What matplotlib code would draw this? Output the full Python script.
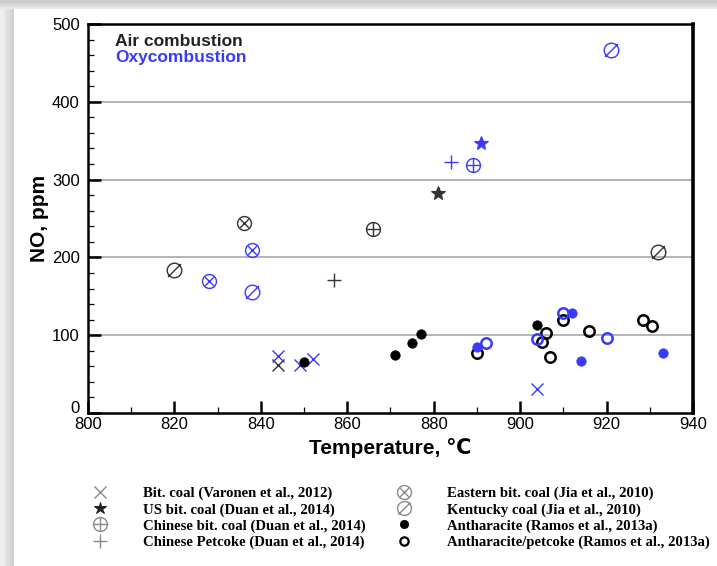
import matplotlib
matplotlib.use("Agg")
import matplotlib.pyplot as plt
import matplotlib.transforms as mtransforms
from matplotlib.path import Path
from matplotlib.lines import Line2D
from matplotlib.patches import Rectangle
from matplotlib.ticker import MultipleLocator

# ---------------- data ----------------
# Bit. coal (Varonen et al., 2012)  -- marker x
bit_air_T = [844]
bit_air_NO = [62]
bit_oxy_T = [844, 849, 852, 904]
bit_oxy_NO = [73, 62, 69, 31]

# US bit. coal (Duan et al., 2014) -- star
us_air_T = [881]
us_air_NO = [283]
us_oxy_T = [891]
us_oxy_NO = [347]

# Chinese bit. coal (Duan et al., 2014) -- circle plus
cn_air_T = [866]
cn_air_NO = [236]
cn_oxy_T = [889]
cn_oxy_NO = [319]

# Chinese Petcoke (Duan et al., 2014) -- plus
pc_air_T = [857]
pc_air_NO = [171]
pc_oxy_T = [884]
pc_oxy_NO = [322]

# Eastern bit. coal (Jia et al., 2010) -- circle x
east_air_T = [836]
east_air_NO = [244]
east_oxy_T = [828, 838]
east_oxy_NO = [170, 210]

# Kentucky coal (Jia et al., 2010) -- circle slash
ky_air_T = [820, 932]
ky_air_NO = [184, 207]
ky_oxy_T = [838, 921]
ky_oxy_NO = [156, 467]

# Antharacite (Ramos et al., 2013a) -- filled dot
an_air_T = [850, 871, 875, 877, 904]
an_air_NO = [66, 74, 90, 101, 113]
an_oxy_T = [890, 912, 914, 933]
an_oxy_NO = [85, 128, 67, 77]

# Antharacite/petcoke (Ramos et al., 2013a) -- open circle
ap_air_T = [890, 905, 906, 907, 910, 916, 928.5, 930.5]
ap_air_NO = [77, 91, 103, 72, 120, 105, 120, 112]
ap_oxy_T = [892, 904, 910, 920]
ap_oxy_NO = [90, 95, 129, 97]

legend_labels = [
    "Bit. coal (Varonen et al., 2012)",
    "US bit. coal (Duan et al., 2014)",
    "Chinese bit. coal (Duan et al., 2014)",
    "Chinese Petcoke (Duan et al., 2014)",
    "Eastern bit. coal (Jia et al., 2010)",
    "Kentucky coal (Jia et al., 2010)",
    "Antharacite (Ramos et al., 2013a)",
    "Antharacite/petcoke (Ramos et al., 2013a)",
]

x_ticks = [800, 820, 840, 860, 880, 900, 920, 940]
y_ticks = [0, 100, 200, 300, 400, 500]

# ---------------- custom markers ----------------
circ = Path.unit_circle()
d = 0.62
circ_x = Path.make_compound_path(
    circ,
    Path([(-d, -d), (d, d)], [Path.MOVETO, Path.LINETO]),
    Path([(-d, d), (d, -d)], [Path.MOVETO, Path.LINETO]),
)
circ_plus = Path.make_compound_path(
    circ,
    Path([(-1, 0), (1, 0)], [Path.MOVETO, Path.LINETO]),
    Path([(0, -1), (0, 1)], [Path.MOVETO, Path.LINETO]),
)
e = 0.88
circ_slash = Path.make_compound_path(
    circ,
    Path([(-e, -e), (e, e)], [Path.MOVETO, Path.LINETO]),
)

BLUE = "#3a3aff"
DARK = "#333333"
GREY = "#8a8a8a"

plt.rcParams['font.family'] = ['Liberation Sans', 'DejaVu Sans']

fig = plt.figure(figsize=(7.17, 5.66), dpi=100)
fig.patch.set_facecolor("white")

# screenshot-like shadow frame
for i, c in enumerate(["#cfcfcf", "#d8d8d8", "#e0e0e0", "#e8e8e8", "#efefef"]):
    w = (14 - i * 2.5) / 717
    fig.patches.append(Rectangle((0, 0), w, 1, transform=fig.transFigure,
                                 color=c, zorder=-10, lw=0))
for i, c in enumerate(["#e8e8e8", "#dedede", "#d4d4d4", "#cccccc"]):
    hh = (9 - i * 2) / 566
    fig.patches.append(Rectangle((0, 1 - hh), 1, hh, transform=fig.transFigure,
                                 color=c, zorder=-9, lw=0))

ax = fig.add_axes([88 / 717, 1 - 413 / 566, (693 - 88) / 717, (413 - 24) / 566])

def pts(T, NO, marker, color, ms, mew=1.0, fill=False, z=3):
    ax.plot(T, NO, linestyle="none", marker=marker, markersize=ms,
            markeredgecolor=color, markeredgewidth=mew,
            markerfacecolor=(color if fill else "none"), zorder=z, clip_on=False)

# Kentucky
pts(ky_air_T, ky_air_NO, circ_slash, DARK, 10.5, 1.0)
pts(ky_oxy_T, ky_oxy_NO, circ_slash, BLUE, 10.5, 1.0)
# Eastern
pts(east_air_T, east_air_NO, circ_x, DARK, 10, 1.0)
pts(east_oxy_T, east_oxy_NO, circ_x, BLUE, 10, 1.0)
# Chinese bit coal
pts(cn_air_T, cn_air_NO, circ_plus, DARK, 10, 1.0)
pts(cn_oxy_T, cn_oxy_NO, circ_plus, BLUE, 10, 1.0)
# petcoke
pts(pc_air_T, pc_air_NO, "+", DARK, 10, 1.0)
pts(pc_oxy_T, pc_oxy_NO, "+", BLUE, 10, 1.0)
# US bit coal
pts(us_air_T, us_air_NO, "*", DARK, 10, 0.8, fill=True)
pts(us_oxy_T, us_oxy_NO, "*", BLUE, 10, 0.8, fill=True)
# Bit coal
pts(bit_air_T, bit_air_NO, "x", DARK, 8, 1.0)
pts(bit_oxy_T, bit_oxy_NO, "x", BLUE, 8, 1.0)
# Anthracite / petcoke open
pts(ap_air_T, ap_air_NO, "o", "black", 7.5, 1.8)
pts(ap_oxy_T, ap_oxy_NO, "o", BLUE, 7.5, 1.8)
# Anthracite filled
pts(an_air_T, an_air_NO, "o", "black", 6.8, 0.5, fill=True, z=4)
pts(an_oxy_T, an_oxy_NO, "o", BLUE, 6.8, 0.5, fill=True, z=4)

ax.set_xlim(800, 940)
ax.set_ylim(0, 500)
ax.set_xticks(x_ticks)
ax.set_yticks(y_ticks)
ax.xaxis.set_minor_locator(MultipleLocator(10))
ax.yaxis.set_minor_locator(MultipleLocator(20))
ax.tick_params(which="major", direction="in", length=9, width=1.8,
               labelsize=12, top=False, right=False)
ax.tick_params(which="minor", direction="in", length=4.5, width=0.9,
               top=False, right=False)
ax.tick_params(axis="x", which="major", pad=3)
ax.tick_params(axis="y", which="major", pad=6)
for s in ax.spines.values():
    s.set_linewidth(1.8)
ax.spines["right"].set_linewidth(2.6)

# nudge the "0" label up slightly so it does not collide with "800"
zero_lbl = ax.get_yticklabels()[0]
zero_lbl.set_transform(zero_lbl.get_transform() +
                       mtransforms.ScaledTranslation(0, 4 / 72, fig.dpi_scale_trans))

for yv in y_ticks[1:-1]:
    ax.axhline(yv, color="#a8a8a8", lw=1.2, zorder=1)

ax.set_xlabel("Temperature, \u2103", fontsize=15, fontweight="bold", labelpad=4)
ax.set_ylabel("NO, ppm", fontsize=15, fontweight="bold", labelpad=2)

ax.text(0.045, 0.974, "Air combustion", transform=ax.transAxes, fontsize=12.5,
        fontweight="bold", color="#222222", va="top", ha="left")
ax.text(0.045, 0.934, "Oxycombustion", transform=ax.transAxes, fontsize=12.5,
        fontweight="bold", color=BLUE, va="top", ha="left")

# legend
def h(marker, color, ms, mew=1.0, fill=False):
    return Line2D([], [], linestyle="none", marker=marker, markersize=ms,
                  markeredgecolor=color, markeredgewidth=mew,
                  markerfacecolor=(color if fill else "none"))

handles = [
    h("x", GREY, 8, 1.0),
    h("*", "#222222", 9, 0.8, True),
    h(circ_plus, GREY, 10, 1.0),
    h("+", GREY, 10, 1.0),
    h(circ_x, GREY, 10, 1.0),
    h(circ_slash, GREY, 10, 1.0),
    h("o", "black", 6, 0.5, True),
    h("o", "black", 6, 1.6),
]
leg = fig.legend(handles, legend_labels, ncol=2, loc="upper left",
                 bbox_to_anchor=(93 / 717, 1 - 487 / 566), frameon=False,
                 prop={"family": "Liberation Serif", "weight": "bold", "size": 10.6},
                 handlelength=1.0, handletextpad=2.4, columnspacing=2.1,
                 labelspacing=0.18, borderpad=0, borderaxespad=0)

fig.savefig("out.png", dpi=100, facecolor=fig.get_facecolor())
